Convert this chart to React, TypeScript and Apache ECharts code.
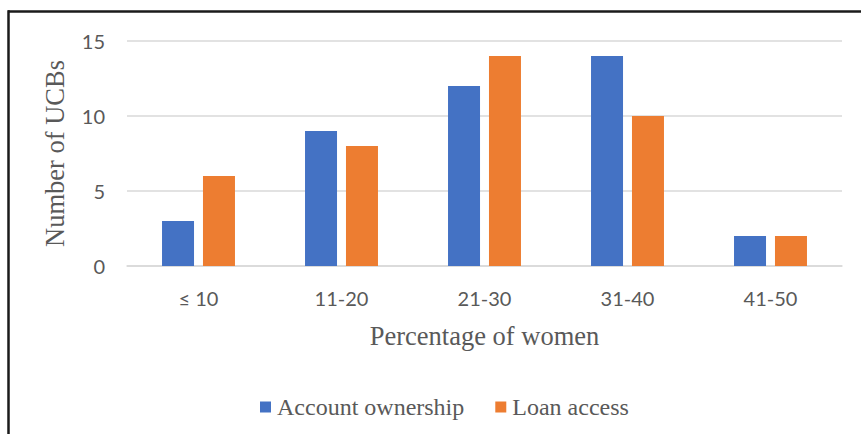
import React, { useEffect, useRef } from "react";
import * as echarts from "echarts";

// Share of women among members, grouped in bands
const categories = ["≤ 10", "11-20", "21-30", "31-40", "41-50"];
// Number of UCBs in each band
const accountOwnership = [3, 9, 12, 14, 2];
const loanAccess = [6, 8, 14, 10, 2];

const seriesNames = ["Account ownership", "Loan access"];
const yMin = 0;
const yMax = 15;
const yStep = 5;

const W = 861;
const H = 434;

export default function App() {
  const ref = useRef<HTMLDivElement>(null);

  useEffect(() => {
    if (!ref.current) return;
    const chart = echarts.init(ref.current, undefined, { renderer: "svg" });
    const gray = "#595959";
    const serif = "'Liberation Serif', 'Times New Roman', serif";
    const sans = "Lato, 'Open Sans', sans-serif";
    chart.setOption({
      animation: false,
      backgroundColor: "#ffffff",
      grid: { left: 127, right: 19, top: 41, bottom: 168, containLabel: false },
      legend: {
        data: seriesNames,
        left: 255,
        top: 390,
        icon: "rect",
        itemWidth: 11,
        itemHeight: 11,
        itemGap: 31,
        textStyle: {
          fontFamily: serif,
          fontSize: 24,
          color: gray,
          padding: [0, 0, 0, 1],
        },
      },
      xAxis: {
        type: "category",
        data: categories,
        name: "Percentage of women",
        nameLocation: "middle",
        nameGap: 56,
        nameTextStyle: {
          fontFamily: serif,
          fontSize: 26.5,
          color: gray,
        },
        axisLine: { lineStyle: { color: "#d9d9d9", width: 1.5 } },
        axisTick: { show: false },
        axisLabel: {
          margin: 22,
          fontFamily: sans,
          fontSize: 20,
          color: gray,
        },
      },
      yAxis: {
        type: "value",
        min: yMin,
        max: yMax,
        interval: yStep,
        name: "Number of UCBs",
        nameLocation: "middle",
        nameGap: 59,
        nameRotate: 90,
        nameTextStyle: {
          fontFamily: serif,
          fontSize: 26.5,
          color: gray,
        },
        axisLine: { show: false },
        axisTick: { show: false },
        axisLabel: {
          margin: 22,
          fontFamily: sans,
          fontSize: 20,
          color: gray,
        },
        splitLine: { lineStyle: { color: "#d9d9d9", width: 1.5 } },
      },
      series: [
        {
          name: seriesNames[0],
          type: "bar",
          data: accountOwnership,
          barWidth: 32,
          barGap: "28%",
          itemStyle: { color: "#4472C4" },
        },
        {
          name: seriesNames[1],
          type: "bar",
          data: loanAccess,
          barWidth: 32,
          barGap: "28%",
          itemStyle: { color: "#ED7D31" },
        },
      ],
      graphic: [
        {
          type: "line",
          shape: { x1: 8, y1: 11.5, x2: W, y2: 11.5 },
          style: { stroke: "#1a1a1a", lineWidth: 2.5 },
          silent: true,
        },
        {
          type: "line",
          shape: { x1: 8.5, y1: 10.25, x2: 8.5, y2: H },
          style: { stroke: "#1a1a1a", lineWidth: 2.5 },
          silent: true,
        },
      ],
    });
    return () => chart.dispose();
  }, []);

  return (
    <div
      ref={ref}
      style={{ position: "fixed", left: 0, top: 0, width: W, height: H }}
    />
  );
}
